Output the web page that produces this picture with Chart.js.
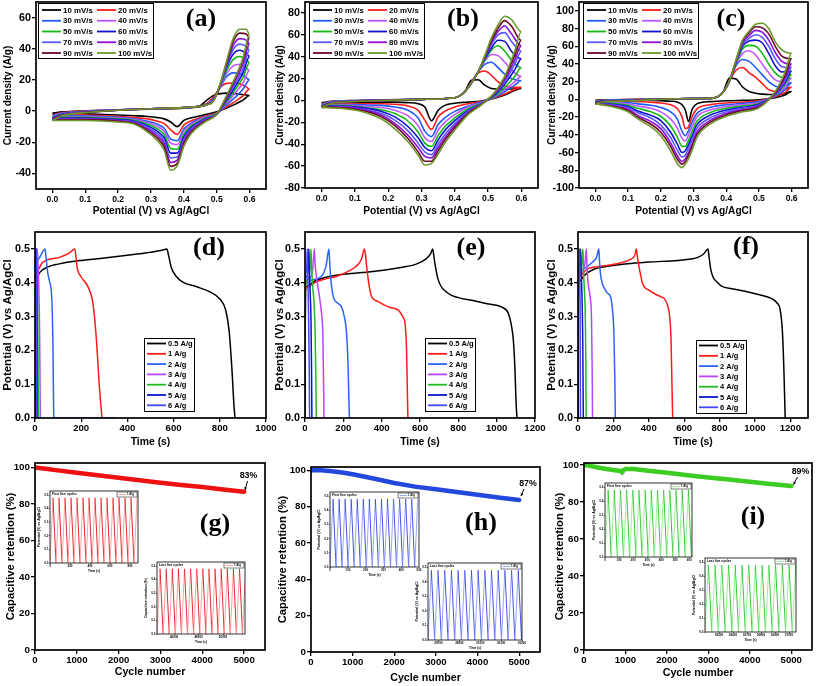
<!DOCTYPE html>
<html><head><meta charset="utf-8">
<script src="https://cdn.jsdelivr.net/npm/chart.js@4.4.1/dist/chart.umd.min.js"></script>
<style>
html,body{margin:0;padding:0;background:#fff;}
body{width:816px;height:686px;position:relative;overflow:hidden;}
canvas{position:absolute;}
</style></head><body>
<script>
// ================= DATA =================
const scanRates = ['10 mV/s','20 mV/s','30 mV/s','40 mV/s','50 mV/s','60 mV/s','70 mV/s','80 mV/s','90 mV/s','100 mV/s'];
const currentDensities = ['0.5 A/g','1 A/g','2 A/g','3 A/g','4 A/g','5 A/g','6 A/g'];

const cvXTicks = [0,0.1,0.2,0.3,0.4,0.5,0.6];
const cvA_yTicks = [-40,-20,0,20,40,60];
const cvB_yTicks = [-80,-60,-40,-20,0,20,40,60,80];
const cvC_yTicks = [-100,-80,-60,-40,-20,0,20,40,60,80,100];
const gcd_yTicks = [0,0.1,0.2,0.3,0.4,0.5];
const gcdD_xTicks = [0,200,400,600,800,1000];
const gcdE_xTicks = [0,200,400,600,800,1000,1200];
const gcdF_xTicks = [0,200,400,600,800,1000,1200];
const ret_xTicks = [0,1000,2000,3000,4000,5000];
const ret_yTicks = [0,20,40,60,80,100];

// ---- CV (a) ----
const cvA_fwdE = [0,0.03,0.1,0.2,0.3,0.4,0.45,0.47,0.49,0.51,0.53,0.55,0.57,0.59,0.6];
const cvA_fwdI = [
 [-1.5,-0.5,0.2,0.8,1.2,1.8,3.5,7,10,11.2,11.5,11.3,10.8,10.3,10],
 [-2.5,-1,0,0.8,1.3,2,3.2,5,9,15,17.8,18,17.5,15.5,14],
 [-3,-1.3,-0.2,0.8,1.4,2.1,3.2,4.5,8,15,22,24.5,24,21.5,20],
 [-3.5,-1.6,-0.4,0.8,1.4,2.1,3.1,4.3,7.5,15,24,29,30,27.5,26],
 [-4,-1.9,-0.5,0.7,1.5,2.2,3.1,4.2,7.2,15.5,26,33,35,33,31],
 [-4.5,-2.1,-0.6,0.7,1.5,2.2,3,4.1,7,16,28,36.5,39,37,35],
 [-5,-2.3,-0.7,0.6,1.5,2.2,3,4,6.8,16,29,39.5,43,41.5,39],
 [-5.3,-2.5,-0.8,0.6,1.5,2.2,3,4,6.6,16.5,30,42,46.5,45.5,43],
 [-5.6,-2.7,-0.9,0.5,1.5,2.2,3,4,6.5,17,31,44.5,50,49.5,47],
 [-6,-2.9,-1,0.5,1.5,2.2,3,4,6.4,17,32,46.5,52.5,52.5,49]
];
const cvA_revE = [0.6,0.58,0.56,0.53,0.5,0.46,0.42,0.4,0.38,0.36,0.34,0.32,0.29,0.25,0.2,0.1,0];
const cvA_revI = [
 [10,7,4.8,2,-0.5,-2.5,-4.5,-6,-10,-7,-5,-4.2,-3.5,-3,-2.5,-1.8,-1.5],
 [14,9.8,6.7,2.8,-1,-3.5,-6.5,-9,-15,-12,-8,-6.5,-5,-4.2,-3.5,-2.5,-2.5],
 [20,14,9.6,4,-1.5,-4,-8,-11.5,-19,-18,-11,-8.5,-6.5,-5,-4,-3,-3],
 [26,18,12.5,5,-1.5,-4.5,-9,-13,-21.5,-20.5,-13,-10,-7.5,-5.5,-4.5,-3.5,-3.5],
 [31,21.5,15,6,-1.5,-5,-10,-15,-24.5,-24,-15,-11.5,-8.5,-6,-5,-4,-4],
 [35,24.5,17,7,-2,-5.5,-11,-16.5,-27,-27,-17,-13,-9.5,-6.5,-5.5,-4.5,-4.5],
 [39,27,19,8,-2,-6,-12,-18,-29.5,-30,-19,-14.5,-10.5,-7,-6,-5,-5],
 [43,30,21,8.5,-2,-6.5,-13,-19.5,-31.5,-33,-21,-16,-11.5,-7.5,-6,-5.2,-5.3],
 [47,33,23,9.5,-2,-7,-14,-21,-33.5,-35.5,-23,-17.5,-12.5,-8,-6.5,-5.5,-5.6],
 [49,34,23.5,10,-2,-7.5,-15,-22.5,-35,-38,-25,-19,-13.5,-8.5,-7,-6,-6]
];

// ---- CV (b) ----
const cvB_fwdE = [0,0.03,0.1,0.2,0.3,0.4,0.43,0.45,0.47,0.49,0.51,0.53,0.55,0.57,0.6];
const cvB_fwdI = [
 [-2,-0.8,0,0.5,1,2.5,8,18.5,19,14,11,10.5,10.3,10.5,11],
 [-3,-1,-0.2,0.5,1,2.5,8,17,25,27,23,17,13.5,12,12],
 [-3.5,-1.2,-0.3,0.5,1,2.5,8,16.5,26,33,35,30,24,20,18],
 [-4,-1.4,-0.4,0.5,1,2.5,8,16,26,36,42,41,35,28,22],
 [-4.5,-1.6,-0.5,0.4,1,2.5,8,16,26,37,46,50,45,37,30],
 [-5,-1.8,-0.6,0.4,1,2.5,8,16,26,38,48,55,54,45,38],
 [-5.5,-2,-0.7,0.3,1,2.5,8,16,26,39,51,60,62,54,45],
 [-6,-2.2,-0.8,0.3,1,2.5,8,16,26,40,53,63,68,61,50],
 [-6,-2.4,-0.9,0.2,1,2.5,8,16,26,40,55,66,73,68,55],
 [-6.5,-2.6,-1,0.2,1,2.5,8,16,26,41,57,69,77,74,63]
];
const cvB_revE = [0.6,0.58,0.55,0.52,0.48,0.44,0.4,0.37,0.35,0.33,0.31,0.29,0.26,0.22,0.18,0.12,0.05,0];
const cvB_revI = [
 [11,9,5,2,-0.5,-1.5,-2.5,-4.5,-9,-18.5,-6,-3,-2,-1.5,-1.5,-1.8,-2,-2],
 [12,10,6,2.5,-1,-3,-6,-10,-15,-26.5,-18,-9,-5,-3.5,-3,-3,-3,-3],
 [18,14,8,3,-1.5,-5,-10,-16,-22,-33,-28,-16,-9,-6,-4.5,-4,-3.5,-3.5],
 [22,17,10,3.5,-2,-6,-13,-20,-27,-37.5,-34,-23,-14,-9,-6.5,-5,-4,-4],
 [30,22,12,4,-2.5,-7.5,-16,-24,-32,-42,-39,-29,-19,-12,-8.5,-6,-4.5,-4.5],
 [38,28,15,5,-3,-9,-18.5,-27.5,-36,-46,-43,-34,-24,-15,-10,-6.5,-5,-5],
 [45,33,17,6,-3,-10,-21,-31,-40,-49.5,-47,-39,-28,-18,-12,-7.5,-5.5,-5.5],
 [50,37,19,6.5,-3.5,-11,-23,-34,-43,-52.5,-51,-43,-32,-21,-13.5,-8,-6,-6],
 [55,41,21,7,-3.5,-12,-25,-36.5,-46,-55.5,-55.5,-47,-35,-23,-15,-9,-6.5,-6],
 [63,45,22,7.5,-4,-13,-27,-39,-49,-57.5,-59,-50,-38,-26,-17,-10,-7,-6.5]
];

// ---- CV (c) ----
const cvC_fwdE = [0,0.03,0.1,0.2,0.3,0.36,0.39,0.41,0.43,0.45,0.47,0.49,0.51,0.53,0.55,0.57,0.6];
const cvC_fwdI = [
 [-1,-0.5,0,0.5,1,1.5,8,24,23,14,9,7,6,5.5,5.5,6,9],
 [-1.5,-0.8,-0.2,0.5,1,1.5,8,21,33,36,30,25,18,11,9,10,14],
 [-2,-1,-0.4,0.5,1,1.5,8,21,38,45,43,36,28,20,15,14,19],
 [-2.5,-1.2,-0.6,0.4,1,1.5,8,21,40,52,55,50,40,30,22,20,24],
 [-3,-1.4,-0.8,0.4,1,1.5,8,21,41,57,61,60,52,40,30,25,28],
 [-3.5,-1.6,-1,0.3,1,1.5,8,21,42,60,66,67,64,52,38,31,32],
 [-4,-1.8,-1.2,0.3,1,1.5,8,21,43,62,69,73,70,60,46,37,36],
 [-4.5,-2,-1.4,0.2,1,1.5,8,21,43.5,64,72,78,76,67,53,43,40],
 [-4.8,-2.2,-1.6,0.2,1,1.5,8,21,44,66,75,82,81,74,60,49,46],
 [-5,-2.4,-1.8,0.1,1,1.5,8,21,44.5,67,77,85,86,80,65,56,52]
];
const cvC_revE = [0.6,0.58,0.55,0.5,0.45,0.4,0.35,0.31,0.295,0.285,0.275,0.265,0.25,0.23,0.2,0.17,0.13,0.1,0.05,0];
const cvC_revI = [
 [9,5,2,-0.5,-1,-1.5,-2.5,-5,-12,-25,-12,-6,-3,-2,-1.5,-1,-1,-0.8,-0.5,-1],
 [14,8,3,-1.5,-3,-4,-6,-11,-20,-31,-33,-20,-10,-6,-4,-3,-2.5,-2,-1.5,-1.5],
 [19,11,4,-2.5,-4.5,-6,-9,-16,-26,-35,-41,-36,-22,-14,-9,-6.5,-5,-3.5,-2.5,-2],
 [24,14,5,-3.5,-6,-8,-12,-20,-31,-40,-47,-44,-32,-22,-14,-10,-7.5,-5,-3.5,-2.5],
 [28,17,5.5,-4.5,-7.5,-10,-15,-25,-37,-46,-53,-53,-42,-30,-19,-14,-10,-6.5,-4.5,-3],
 [32,19,6,-5.5,-9,-12,-18,-29,-42,-51,-58,-60,-50,-37,-24,-18,-13,-8,-5.5,-3.5],
 [36,21,6.5,-6.5,-10,-14,-21,-33,-46,-55,-63,-65,-57,-43,-29,-21,-15,-9.5,-6,-4],
 [40,24,7,-7.5,-11.5,-16,-24,-37,-51,-60,-67,-70,-63,-49,-33,-25,-18,-11,-7,-4.5],
 [46,27,8,-8.5,-12.5,-17.5,-26,-40,-54,-63,-70,-73,-67,-53,-37,-28,-20,-12.5,-7.5,-4.8],
 [52,31,9,-9.5,-14,-19,-28,-43,-58,-67,-73,-77,-72,-58,-41,-31,-22,-14,-8,-5]
];

// ---- GCD (d) ----
const gcdD_t = [
 [0,1,5,20,50,100,200,300,400,500,550,571,576,590,610,640,700,760,800,825,840,852,862,866],
 [0,1,5,33,106,150,172,176,182,200,230,251,266,278,288,290],
 [0,1,5,20,44,47,55,62,73,78,81,82,350],
 [0,1,5,10,12,16,20,23],
 [0,1,4,7,9,12,15],
 [0,1,3,5,7,9,10],
 [0,1,2,4,6,8]
];
const gcdD_v = [
 [0,0.39,0.41,0.43,0.445,0.455,0.466,0.473,0.481,0.49,0.496,0.5,0.488,0.445,0.42,0.402,0.388,0.372,0.352,0.32,0.26,0.15,0.03,0],
 [0,0.41,0.43,0.46,0.475,0.488,0.5,0.485,0.446,0.417,0.387,0.338,0.23,0.1,0.015,0],
 [0,0.44,0.46,0.475,0.5,0.48,0.43,0.407,0.348,0.2,0.01,0,0],
 [0,0.45,0.48,0.5,0.47,0.4,0.25,0],
 [0,0.45,0.48,0.5,0.42,0.3,0],
 [0,0.46,0.49,0.5,0.42,0.25,0],
 [0,0.46,0.49,0.5,0.35,0]
];
// ---- GCD (e) ----
const gcdE_t = [
 [0,2,10,50,100,200,300,400,500,580,630,655,666,672,678,696,748,800,870,950,1026,1061,1078,1087,1095,1101,1106],
 [0,2,10,50,100,170,230,270,295,310,316,322,335,348,380,417,450,487,510,522,530,534,537],
 [0,2,10,35,87,110,125,128,135,148,170,191,205,217,225,230,232],
 [0,2,20,40,49,52,60,78,88,93,97,99],
 [0,2,15,26,31,34,40,48,53,57,59],
 [0,1,10,17,20,22,27,31,34,36],
 [0,1,6,10,12,14,18,22,24]
];
const gcdE_v = [
 [0,0.38,0.39,0.405,0.415,0.425,0.43,0.436,0.445,0.455,0.47,0.485,0.5,0.48,0.456,0.407,0.368,0.356,0.348,0.338,0.328,0.309,0.27,0.23,0.15,0.05,0],
 [0,0.37,0.385,0.4,0.41,0.42,0.435,0.45,0.47,0.5,0.48,0.446,0.39,0.358,0.345,0.333,0.326,0.319,0.3,0.28,0.2,0.08,0],
 [0,0.39,0.4,0.408,0.42,0.45,0.5,0.47,0.41,0.358,0.34,0.328,0.3,0.25,0.15,0.03,0],
 [0,0.39,0.41,0.44,0.5,0.46,0.417,0.348,0.3,0.25,0.1,0],
 [0,0.39,0.41,0.44,0.5,0.45,0.39,0.33,0.25,0.1,0],
 [0,0.4,0.42,0.45,0.5,0.45,0.37,0.3,0.15,0],
 [0,0.4,0.43,0.46,0.5,0.44,0.33,0.15,0]
];
// ---- GCD (f) ----
const gcdF_t = [
 [0,2,10,32,89,150,279,400,564,640,678,710,735,740,750,763,790,811,870,944,1020,1095,1125,1143,1156,1165,1171],
 [0,2,10,50,150,250,300,320,330,335,342,355,365,400,431,470,488,505,516,526,531,535],
 [0,2,20,80,105,118,122,127,136,146,165,184,195,203,208,211],
 [0,2,20,40,47,50,57,68,76,80,82],
 [0,2,15,28,30,35,40,44,46],
 [0,1,8,15,17,22,27,30],
 [0,1,5,9,10,12,14]
];
const gcdF_v = [
 [0,0.39,0.405,0.42,0.44,0.447,0.456,0.461,0.466,0.47,0.475,0.485,0.5,0.48,0.44,0.417,0.4,0.39,0.382,0.375,0.365,0.353,0.34,0.319,0.25,0.12,0],
 [0,0.41,0.42,0.44,0.45,0.46,0.47,0.48,0.5,0.48,0.456,0.42,0.397,0.378,0.368,0.358,0.353,0.335,0.309,0.23,0.1,0],
 [0,0.42,0.44,0.46,0.475,0.5,0.46,0.427,0.4,0.387,0.37,0.358,0.32,0.25,0.12,0],
 [0,0.41,0.43,0.46,0.5,0.46,0.4,0.36,0.3,0.15,0],
 [0,0.41,0.43,0.5,0.45,0.39,0.33,0.18,0],
 [0,0.42,0.44,0.5,0.45,0.37,0.22,0],
 [0,0.42,0.45,0.5,0.44,0.3,0]
];

// ---- Cycling retention ----
const retG_cycle = [0,250,500,1000,1500,2000,2500,3000,3500,4000,4500,5000];
const retG_pct   = [100,99.3,98.6,97.2,95.8,94.4,93,91.7,90.5,89.3,88,86.8];
const retH_cycle = [0,250,500,750,1000,1500,2000,2500,3000,3500,4000,4500,5000];
const retH_pct   = [100,100,99.5,98.8,97.8,95.5,93,91,89.5,88,86.5,85,83.7];
const retI_cycle = [0,100,300,500,700,880,920,960,1000,1200,1500,2000,2500,3000,3500,4000,4500,5000];
const retI_pct   = [100,99.8,98.8,98,97.3,96.8,96,97.3,97.8,97.8,97,95.8,94.5,93.3,92.2,91,89.8,88.7];
const retLabels = ['83%','87%','89%'];

// ---- Insets (first / last cycles, potential vs time) ----
const insetCycleV = [0,0.48,0,0.48,0,0.48,0,0.48,0,0.48,0,0.48,0,0.48,0,0.48,0,0.48,0,0.48,0,0.48,0,0.48,0,0.48,0,0.48,0,0.48];
const insetG1_t = [0,30,60,90,120,150,180,210,240,270,300,330,360,390,420,450,480,510,540,570,600,630,660,690,720,750,780,810,840,870];
const insetG2_t = [44600,44850,45100,45350,45600,45850,46100,46350,46600,46850,47100,47350,47600,47850,48100,48350,48600,48850,49100,49350,49600,49850,50100,50350,50600,50850,51100,51350,51600,51850];
const insetH1_t = [0,17,34,51,68,85,102,119,136,153,170,187,204,221,238,255,272,289,306,323,340,357,374,391,408,425,442,459,476,493];
const insetH2_t = [29600,29632,29664,29696,29728,29760,29792,29824,29856,29888,29920,29952,29984,30016,30048,30080,30112,30144,30176,30208,30240,30272,30304,30336,30368,30400,30432,30464,30496];
const insetI1_t = [0,22,44,66,88,110,132,154,176,198,220,242,264,286,308,330,352,374,396,418,440,462,484,506,528,550,572,594,616,638];
const insetI2_t = [36400,36424,36448,36472,36496,36520,36544,36568,36592,36616,36640,36664,36688,36712,36736,36760,36784,36808,36832,36856,36880,36904,36928,36952,36976,37000,37024,37048,37072];
const insetG1_xTicks = [0,200,400,600,800];
const insetG2_xTicks = [46000,48000,50000];
const insetH1_xTicks = [0,100,200,300,400,500];
const insetH2_xTicks = [29700,29900,30100,30300,30500];
const insetI1_xTicks = [0,100,200,300,400,500,600];
const insetI2_xTicks = [36500,36600,36700,36800,36900,37000];
const inset_yTicks = [0,0.1,0.2,0.3,0.4,0.5];

// ================= STYLE =================
const cvColors  = ['#000000','#ff1a1a','#1f5cff','#c355ff','#13b813','#1010d0','#5a5aff','#8a10d8','#6e0a2a','#6c9a2a'];
const gcdColors = ['#000000','#ff1a1a','#2b63ff','#bb44ff','#22bb22','#0b14c8','#4646ff'];

function nf(size){
  return {family:'"Liberation Sans", Arial, sans-serif', size:size, weight:'bold', lineHeight:(size*1.2)+'px'};
}
function fontStr(f){ return f.weight+' '+f.size+'px '+f.family; }
const SERIF = 'bold 26px "Liberation Serif", "Times New Roman", serif';

Chart.defaults.color = '#000';
Chart.defaults.font.family = '"Liberation Sans", Arial, sans-serif';

function addCanvas(x,y,w,h){
  const c = document.createElement('canvas');
  c.width = w; c.height = h;
  c.style.left = x+'px'; c.style.top = y+'px'; c.style.width = w+'px'; c.style.height = h+'px';
  document.body.appendChild(c);
  return c;
}

function makePanel(cfg){
  const r = cfg.rect, p = cfg.plot;
  const c = addCanvas(r.x, r.y, r.w, r.h);
  const yW = p.l - r.x, xH = r.y + r.h - p.b;
  const tl = cfg.tickLen || 4;
  return new Chart(c, {
    type:'scatter',
    data:{datasets:cfg.datasets},
    options:{
      responsive:false, maintainAspectRatio:false, animation:false, devicePixelRatio:1, events:[],
      layout:{padding:{left:0, top:p.t - r.y, right:r.x + r.w - p.r, bottom:0}},
      elements:{point:{radius:0}},
      plugins:{legend:{display:false}, tooltip:{enabled:false}},
      scales:{
        x:{type:'linear', position:'bottom', min:cfg.xr[0], max:cfg.xr[1],
           afterBuildTicks:s=>{ s.ticks = cfg.xTicks.map(v=>({value:v})); },
           afterFit:s=>{ s.height = xH; s.paddingLeft = 0; s.paddingRight = 0; },
           ticks:{font:cfg.fxt, color:'#000', padding:cfg.xtPad, maxRotation:0, autoSkip:false, callback:v=>v.toFixed(cfg.xDig)},
           grid:{drawOnChartArea:false, drawTicks:true, tickLength:tl, color:'#000', lineWidth:cfg.tickW||1.3},
           border:{display:false},
           title:{display:true, text:cfg.xTitle, font:cfg.fxT, color:'#000', padding:{top:0, bottom:cfg.xTPad}}},
        y:{type:'linear', position:'left', min:cfg.yr[0], max:cfg.yr[1],
           afterBuildTicks:s=>{ s.ticks = cfg.yTicks.map(v=>({value:v})); },
           afterFit:s=>{ s.width = yW; s.paddingTop = 0; s.paddingBottom = 0; },
           ticks:{font:cfg.fyt, color:'#000', padding:cfg.ytPad, autoSkip:false, callback:v=>v.toFixed(cfg.yDig)},
           grid:{drawOnChartArea:false, drawTicks:true, tickLength:tl, color:'#000', lineWidth:cfg.tickW||1.3},
           border:{display:false},
           title:{display:true, text:cfg.yTitle, font:cfg.fyT, color:'#000', padding:{top:cfg.yTPad, bottom:0}}}
      }
    },
    plugins:[{
      id:'frame',
      beforeDatasetsDraw(chart){ if(cfg.whiteBg){ const a=chart.chartArea; chart.ctx.save(); chart.ctx.fillStyle='#fff'; chart.ctx.fillRect(a.left,a.top,a.right-a.left,a.bottom-a.top); chart.ctx.restore(); } },
      afterDraw(chart){
        const {ctx, chartArea:a} = chart;
        ctx.save(); ctx.strokeStyle='#000'; ctx.lineWidth=cfg.frameW||1.7;
        ctx.strokeRect(a.left, a.top, a.right-a.left, a.bottom-a.top); ctx.restore();
        if (cfg.extra) { ctx.save(); ctx.translate(-r.x, -r.y); cfg.extra(ctx, chart); ctx.restore(); }
      }
    }]
  });
}

function cvSets(fwdE, fwdI, revE, revI){
  const out = [];
  for (let k = fwdI.length-1; k >= 0; k--){
    const pts = fwdE.map((e,i)=>({x:e, y:fwdI[k][i]})).concat(revE.map((e,i)=>({x:e, y:revI[k][i]})));
    out.push({data:pts, showLine:true, borderColor:cvColors[k], borderWidth:1.6, pointRadius:0, cubicInterpolationMode:'monotone', fill:false});
  }
  return out;
}
function gcdSets(T, V){
  const out = [];
  for (let k = T.length-1; k >= 0; k--){
    out.push({data:T[k].map((t,i)=>({x:t, y:V[k][i]})), showLine:true, borderColor:gcdColors[k], borderWidth:1.5, pointRadius:0, cubicInterpolationMode:'monotone', fill:false});
  }
  return out;
}
function line(ctx,x1,y1,x2,y2){ ctx.beginPath(); ctx.moveTo(x1,y1); ctx.lineTo(x2,y2); ctx.stroke(); }
function panelLabel(ctx, s, x, y){ ctx.font = SERIF; ctx.fillStyle='#000'; ctx.textAlign='center'; ctx.textBaseline='middle'; ctx.fillText(s, x, y); }

function cvLegend(ctx, x0, y0){
  const w = 115, h = 55;
  ctx.fillStyle='#fff'; ctx.fillRect(x0,y0,w,h);
  ctx.strokeStyle='#000'; ctx.lineWidth=1; ctx.strokeRect(x0+0.5,y0+0.5,w,h);
  ctx.font = fontStr(nf(7.9)); ctx.textBaseline='middle'; ctx.textAlign='left';
  scanRates.forEach((lab,i)=>{
    const col = i%2, row = Math.floor(i/2);
    const lx = x0 + 4 + col*55, ly = y0 + 7 + row*10.75;
    ctx.strokeStyle = cvColors[i]; ctx.lineWidth = 1.8; line(ctx, lx, ly, lx+19, ly);
    ctx.fillStyle='#000'; ctx.fillText(lab, lx+21, ly+0.5);
  });
}
function gcdLegend(ctx, x0, y0){
  const w = 50, h = 73;
  ctx.fillStyle='#fff'; ctx.fillRect(x0,y0,w,h);
  ctx.strokeStyle='#000'; ctx.lineWidth=1; ctx.strokeRect(x0+0.5,y0+0.5,w,h);
  ctx.font = fontStr(nf(7.5)); ctx.textBaseline='middle'; ctx.textAlign='left';
  currentDensities.forEach((lab,i)=>{
    const ly = y0 + 5.5 + i*10.3;
    ctx.strokeStyle = gcdColors[i]; ctx.lineWidth = 1.8; line(ctx, x0+3, ly, x0+22, ly);
    ctx.fillStyle='#000'; ctx.fillText(lab, x0+24, ly+0.5);
  });
}
function retNote(ctx, s, tx, ty, ax1, ay1, ax2, ay2){
  ctx.font = fontStr(nf(8.8)); ctx.fillStyle='#000'; ctx.textAlign='center'; ctx.textBaseline='middle';
  ctx.fillText(s, tx, ty);
  ctx.strokeStyle='#000'; ctx.lineWidth=1; line(ctx, ax1, ay1, ax2, ay2);
  const ang = Math.atan2(ay2-ay1, ax2-ax1);
  ctx.beginPath(); ctx.moveTo(ax2, ay2);
  ctx.lineTo(ax2 - 3*Math.cos(ang-0.5), ay2 - 3*Math.sin(ang-0.5));
  ctx.lineTo(ax2 - 3*Math.cos(ang+0.5), ay2 - 3*Math.sin(ang+0.5));
  ctx.closePath(); ctx.fillStyle='#000'; ctx.fill();
}

// ================= ROW 1 : CV =================
const cvCommon = {xr:[-0.05,0.65], xTicks:cvXTicks, xDig:1, yDig:0,
  xTitle:'Potential (V) vs Ag/AgCl', yTitle:'Current density (A/g)',
  fxt:nf(8.6), fyt:nf(10.8), fxT:nf(10.2), fyT:nf(10), xtPad:1, ytPad:1, xTPad:4.9, yTPad:2.5};

makePanel(Object.assign({}, cvCommon, {rect:{x:0,y:0,w:290,h:222}, plot:{l:36,t:2,r:266,b:189},
  yr:[-50,70], yTicks:cvA_yTicks, datasets:cvSets(cvA_fwdE,cvA_fwdI,cvA_revE,cvA_revI),
  extra:(ctx)=>{ cvLegend(ctx,38,3); panelLabel(ctx,'(a)',201,19); }}));
makePanel(Object.assign({}, cvCommon, {rect:{x:272,y:0,w:290,h:222}, plot:{l:305,t:2,r:538,b:188},
  yr:[-80,90], yTicks:cvB_yTicks, datasets:cvSets(cvB_fwdE,cvB_fwdI,cvB_revE,cvB_revI),
  extra:(ctx)=>{ cvLegend(ctx,309,3); panelLabel(ctx,'(b)',463,19); }}));
makePanel(Object.assign({}, cvCommon, {rect:{x:544,y:0,w:272,h:222}, plot:{l:579,t:2,r:808,b:188},
  yr:[-100,110], yTicks:cvC_yTicks, datasets:cvSets(cvC_fwdE,cvC_fwdI,cvC_revE,cvC_revI),
  extra:(ctx)=>{ cvLegend(ctx,583,3); panelLabel(ctx,'(c)',731,19); }}));

// ================= ROW 2 : GCD =================
const gcdCommon = {yr:[0,0.55], yTicks:gcd_yTicks, xDig:0, yDig:1,
  xTitle:'Time (s)', yTitle:'Potential (V) vs Ag/AgCl',
  fxt:nf(9.6), fyt:nf(10.8), fxT:nf(10.4), fyT:nf(11.5), xtPad:1, ytPad:1, xTPad:3.7, yTPad:0.6};
makePanel(Object.assign({}, gcdCommon, {rect:{x:0,y:222,w:290,h:230}, plot:{l:35,t:232,r:266,b:418},
  xr:[0,1000], xTicks:gcdD_xTicks, datasets:gcdSets(gcdD_t,gcdD_v),
  extra:(ctx)=>{ gcdLegend(ctx,144,338); panelLabel(ctx,'(d)',209,248); }}));
makePanel(Object.assign({}, gcdCommon, {rect:{x:272,y:222,w:290,h:230}, plot:{l:305,t:232,r:535,b:418},
  xr:[0,1200], xTicks:gcdE_xTicks, datasets:gcdSets(gcdE_t,gcdE_v),
  extra:(ctx)=>{ gcdLegend(ctx,425,338); panelLabel(ctx,'(e)',471,248); }}));
makePanel(Object.assign({}, gcdCommon, {rect:{x:544,y:222,w:272,h:230}, plot:{l:578,t:232,r:808,b:418},
  xr:[0,1300], xTicks:gcdF_xTicks, datasets:gcdSets(gcdF_t,gcdF_v),
  extra:(ctx)=>{ gcdLegend(ctx,696,340); panelLabel(ctx,'(f)',746,247); }}));

// ================= ROW 3 : retention =================
function retSet(cyc, pct, color){
  return [{data:cyc.map((c,i)=>({x:c, y:pct[i]})), showLine:true, borderColor:color, borderWidth:4.5, pointRadius:0, tension:0, borderCapStyle:'round', fill:false}];
}
const retCommon = {xr:[0,5500], yr:[0,102.5], xTicks:ret_xTicks, yTicks:ret_yTicks, xDig:0, yDig:0,
  xTitle:'Cycle number', yTitle:'Capacitive retention (%)',
  fxt:nf(9.6), fyt:nf(9.8), fxT:nf(10.7), fyT:nf(11.2), xtPad:1, ytPad:1};
makePanel(Object.assign({}, retCommon, {rect:{x:0,y:452,w:290,h:234}, plot:{l:35,t:463,r:265,b:650},
  xTPad:7.6, yTPad:4.3, datasets:retSet(retG_cycle, retG_pct, '#ee1111'),
  extra:(ctx)=>{ panelLabel(ctx,'(g)',215,524); retNote(ctx, retLabels[0], 248.5, 475.5, 247.5, 481, 245, 490); }}));
makePanel(Object.assign({}, retCommon, {rect:{x:272,y:452,w:290,h:234}, plot:{l:311,t:467,r:540,b:652},
  yr:[0,101.8], xTPad:1.6, yTPad:4.3, datasets:retSet(retH_cycle, retH_pct, '#2447dd'),
  extra:(ctx)=>{ panelLabel(ctx,'(h)',481,523); retNote(ctx, retLabels[1], 528, 483.5, 524, 489, 521, 496); }}));
makePanel(Object.assign({}, retCommon, {rect:{x:544,y:452,w:272,h:234}, plot:{l:584,t:463,r:812,b:650},
  yr:[0,101.1], xTPad:6.6, yTPad:9.3, datasets:retSet(retI_cycle, retI_pct, '#3ccc22'),
  extra:(ctx)=>{ panelLabel(ctx,'(i)',753,517); retNote(ctx, retLabels[2], 800.5, 471.5, 797.5, 477, 793.5, 484.5); }}));

// ================= INSETS =================
function makeInset(o){
  const p = o.plot;
  const rect = {x:p.l-15, y:p.t-2, w:(p.r-p.l)+19, h:(p.b-p.t)+12};
  const v = insetCycleV.slice(0, o.t.length);
  const ds = [{data:o.t.map((t,i)=>({x:t, y:v[i]})), showLine:true, borderWidth:0.9, pointRadius:0, tension:0, fill:false,
    borderColor:o.cols[0], segment:{borderColor:ctx=> ctx.p1.parsed.y < ctx.p0.parsed.y ? o.cols[1] : o.cols[0]}}];
  makePanel({rect, plot:p, datasets:ds, xr:o.xr, yr:[0,0.53], xTicks:o.xTicks, yTicks:inset_yTicks, xDig:0, yDig:1,
    xTitle:'Time (s)', yTitle:o.yTitle, fxt:nf(3), fyt:nf(3), fxT:nf(3.2), fyT:nf(3.5), xtPad:0.3, ytPad:0.3,
    xTPad:0.3, yTPad:2.2, tickLen:1.2, tickW:0.5, frameW:0.8, whiteBg:true,
    extra:(ctx)=>{
      ctx.font = fontStr(nf(3.3)); ctx.fillStyle='#000'; ctx.textAlign='left'; ctx.textBaseline='middle';
      ctx.fillText(o.title, p.l+2, p.t+3.5);
      const bx = p.r-21, by = p.t+1;
      ctx.fillStyle='#fff'; ctx.fillRect(bx,by,20,5);
      ctx.strokeStyle='#000'; ctx.lineWidth=0.5; ctx.strokeRect(bx,by,20,5);
      ctx.strokeStyle=o.cols[0]; ctx.lineWidth=0.9; line(ctx,bx+1.5,by+2.5,bx+9,by+2.5);
      ctx.font = fontStr(nf(2.8)); ctx.fillStyle='#000'; ctx.fillText('1 A/g', bx+10, by+2.7);
    }});
}
const redCols = ['#ff9a9a','#e8101a'], blueCols = ['#8f9cff','#3040e8'], greenCols = ['#8ef08e','#22c422'];
makeInset({plot:{l:50,t:491,r:138,b:563}, t:insetG1_t, xr:[0,880], xTicks:insetG1_xTicks, cols:redCols, title:'First five cycles', yTitle:'Potential (V) vs Ag/AgCl'});
makeInset({plot:{l:157,t:562,r:245,b:634}, t:insetG2_t, xr:[44600,51800], xTicks:insetG2_xTicks, cols:redCols, title:'Last five cycles', yTitle:'Capacitive retention (%)'});
makeInset({plot:{l:330,t:492,r:419,b:567}, t:insetH1_t, xr:[0,500], xTicks:insetH1_xTicks, cols:blueCols, title:'First five cycles', yTitle:'Potential (V) vs Ag/AgCl'});
makeInset({plot:{l:428,t:563,r:522,b:640}, t:insetH2_t, xr:[29600,30500], xTicks:insetH2_xTicks, cols:blueCols, title:'Last five cycles', yTitle:'Potential (V) vs Ag/AgCl'});
makeInset({plot:{l:605,t:483,r:692,b:557}, t:insetI1_t, xr:[0,620], xTicks:insetI1_xTicks, cols:greenCols, title:'First five cycles', yTitle:'Potential (V) vs Ag/AgCl'});
makeInset({plot:{l:705,t:558,r:796,b:632}, t:insetI2_t, xr:[36400,37050], xTicks:insetI2_xTicks, cols:greenCols, title:'Last five cycles', yTitle:'Potential (V) vs Ag/AgCl'});
</script>
</body></html>
